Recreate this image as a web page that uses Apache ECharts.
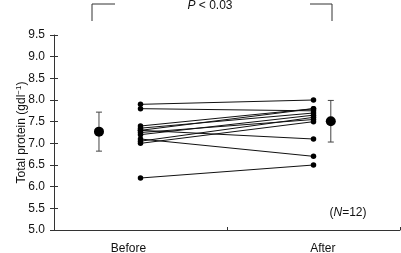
<!DOCTYPE html>
<html>
<head>
<meta charset="utf-8">
<script src="https://cdn.jsdelivr.net/npm/echarts@6/dist/echarts.min.js"></script>
<style>
html,body{margin:0;padding:0;background:#fff;}
#chart{width:401px;height:253px;}
</style>
</head>
<body>
<div id="chart"></div>
<script>
// x positions on a 0..1 value axis
const groupNames=["Before","After"];
const groupLabelPos=[0.215,0.777];
const pointPos=[0.25,0.75];
const meanPos=[0.13,0.80];

// paired subject values (N=12)
const beforeValues=[7.9,7.8,7.4,7.35,7.3,7.3,7.25,7.2,7.1,7.05,7.0,6.2];
const afterValues=[8.0,7.75,7.8,7.7,7.1,7.8,7.55,7.65,6.7,7.6,7.5,6.5];

// group mean and spread
const meanValues=[7.27,7.51];
const sdValues=[0.45,0.48];

const yTicks=[5.0,9.5,0.5];

const font="Liberation Sans, Arial, sans-serif";
const chart=echarts.init(document.getElementById("chart"));

const subjectSeries=beforeValues.map((b,i)=>({
    type:"line",
    data:[[pointPos[0],b],[pointPos[1],afterValues[i]]],
    symbol:"circle",
    symbolSize:5.5,
    itemStyle:{color:"#000",opacity:1},
    lineStyle:{color:"#111",width:1},
    silent:true,
    z:3
}));

chart.setOption({
    backgroundColor:"#fff",
    animation:false,
    grid:{left:54,right:1,top:35,bottom:23,containLabel:false,outerBoundsMode:"none"},
    xAxis:{
        type:"value",
        min:0,
        max:1,
        splitLine:{show:false},
        axisLine:{lineStyle:{color:"#333",width:1}},
        axisTick:{
            show:true,
            inside:true,
            length:3,
            customValues:[0.5,1],
            lineStyle:{color:"#333"}
        },
        axisLabel:{
            customValues:groupLabelPos,
            formatter:v=>{
                const i=groupLabelPos.indexOf(v);
                return i>=0?groupNames[i]:"";
            },
            color:"#111",
            fontFamily:font,
            fontSize:12,
            margin:13
        }
    },
    yAxis:[
        {
            type:"value",
            min:yTicks[0],
            max:yTicks[1],
            interval:yTicks[2],
            splitLine:{show:false},
            axisLine:{show:true,lineStyle:{color:"#333",width:1}},
            axisTick:{show:true,length:4,lineStyle:{color:"#333"}},
            axisLabel:{
                formatter:v=>v.toFixed(1),
                color:"#111",
                fontFamily:font,
                fontSize:12,
                margin:9
            },
            name:"Total protein (gdl{sup|\u22121})",
            nameLocation:"middle",
            nameRotate:90,
            nameGap:25,
            nameMoveOverlap:false,
            nameTextStyle:{
                color:"#111",
                fontFamily:font,
                fontSize:12,
                rich:{sup:{fontSize:8,verticalAlign:"top",padding:[0,0,6,0],fontFamily:font,color:"#111"}}
            }
        },
        {
            type:"value",
            position:"left",
            min:yTicks[0],
            max:yTicks[1],
            interval:yTicks[2],
            splitLine:{show:false},
            axisLine:{show:false},
            axisTick:{show:true,inside:true,length:4,lineStyle:{color:"#333"}},
            axisLabel:{show:false}
        }
    ],
    graphic:[
        {
            type:"polyline",
            shape:{points:[[92,21],[92,4],[115,4]]},
            style:{stroke:"#333",lineWidth:1,fill:null}
        },
        {
            type:"polyline",
            shape:{points:[[310,4],[332,4],[332,21]]},
            style:{stroke:"#333",lineWidth:1,fill:null}
        },
        {
            type:"text",
            x:210,
            y:6,
            style:{
                text:"{i|P} < 0.03",
                align:"center",
                verticalAlign:"middle",
                fontFamily:font,
                fontSize:12,
                fill:"#111",
                rich:{i:{fontStyle:"italic",fontFamily:font,fontSize:12,fill:"#111"}}
            }
        },
        {
            type:"text",
            x:348,
            y:213,
            style:{
                text:"({i|N}=12)",
                align:"center",
                verticalAlign:"middle",
                fontFamily:font,
                fontSize:12,
                fill:"#111",
                rich:{i:{fontStyle:"italic",fontFamily:font,fontSize:12,fill:"#111"}}
            }
        }
    ],
    series:[
        ...subjectSeries,
        {
            type:"custom",
            silent:true,
            data:meanValues.map((m,i)=>[meanPos[i],m-sdValues[i],m+sdValues[i]]),
            renderItem(params,api){
                const lo=api.coord([api.value(0),api.value(1)]);
                const hi=api.coord([api.value(0),api.value(2)]);
                const cap=3;
                const st={stroke:"#444",lineWidth:1};
                return {
                    type:"group",
                    children:[
                        {type:"line",shape:{x1:lo[0],y1:lo[1],x2:hi[0],y2:hi[1]},style:st},
                        {type:"line",shape:{x1:lo[0]-cap,y1:lo[1],x2:lo[0]+cap,y2:lo[1]},style:st},
                        {type:"line",shape:{x1:hi[0]-cap,y1:hi[1],x2:hi[0]+cap,y2:hi[1]},style:st}
                    ]
                };
            },
            z:2
        },
        {
            type:"scatter",
            data:meanValues.map((m,i)=>[meanPos[i],m]),
            symbol:"circle",
            symbolSize:10,
            itemStyle:{color:"#000",opacity:1},
            silent:true,
            z:4
        }
    ]
});
</script>
</body>
</html>
